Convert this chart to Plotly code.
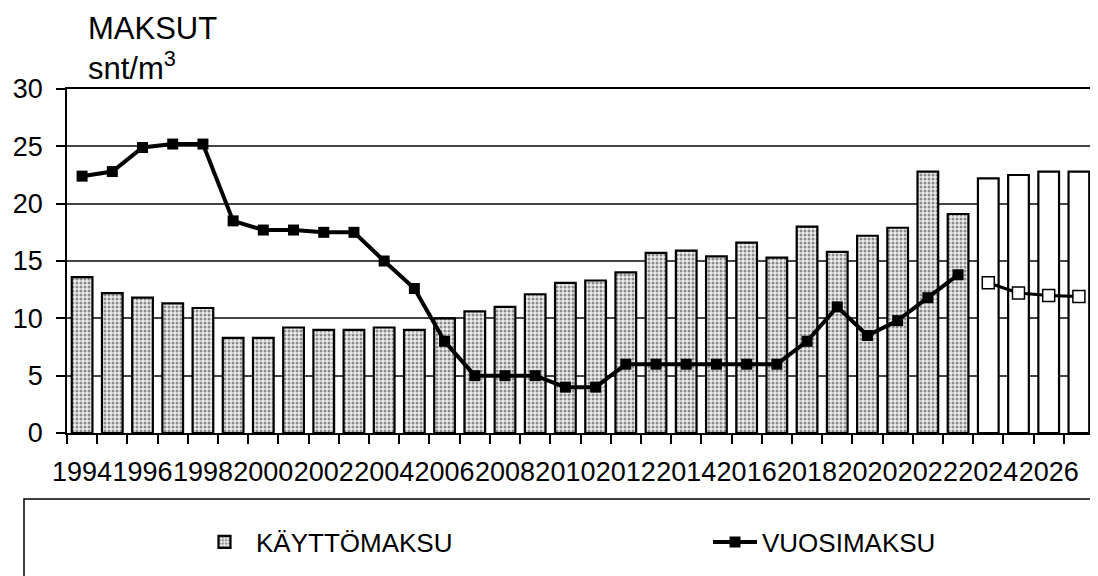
import plotly.graph_objects as go

years = list(range(1994, 2028))
kayttomaksu = [13.6, 12.2, 11.8, 11.3, 10.9, 8.3, 8.3, 9.2, 9.0, 9.0,
               9.2, 9.0, 10.0, 10.6, 11.0, 12.1, 13.1, 13.3, 14.0, 15.7,
               15.9, 15.4, 16.6, 15.3, 18.0, 15.8, 17.2, 17.9, 22.8, 19.1,
               22.2, 22.5, 22.8, 22.8]
vuosimaksu = [22.4, 22.8, 24.9, 25.2, 25.2, 18.5, 17.7, 17.7, 17.5, 17.5,
              15.0, 12.6, 8.0, 5.0, 5.0, 5.0, 4.0, 4.0, 6.0, 6.0,
              6.0, 6.0, 6.0, 6.0, 8.0, 11.0, 8.5, 9.8, 11.8, 13.8,
              13.1, 12.2, 12.0, 11.9]
first_forecast_year = 2024
tick_label_years = list(range(1994, 2027, 2))
tick_labels = [str(y) for y in tick_label_years]
y_ticks = [0, 5, 10, 15, 20, 25, 30]

n_act = years.index(first_forecast_year)
FONT = "Liberation Sans, Arial, sans-serif"

fig = go.Figure()

fig.add_trace(go.Bar(
    x=years[:n_act], y=kayttomaksu[:n_act], name="KÄYTTÖMAKSU",
    marker=dict(color="#e6e6e6", line=dict(color="black", width=2.2),
                pattern=dict(shape=".", fgcolor="#8a8a8a", bgcolor="#eeeeee",
                             size=4, solidity=0.45, fillmode="replace")),
    showlegend=True, legend="legend",
))
fig.add_trace(go.Bar(
    x=years[n_act:], y=kayttomaksu[n_act:], name="KÄYTTÖMAKSU ennuste",
    marker=dict(color="white", line=dict(color="black", width=2.2)),
    showlegend=False,
))
fig.add_trace(go.Scatter(
    x=years[:n_act], y=vuosimaksu[:n_act], name="VUOSIMAKSU",
    mode="lines+markers",
    line=dict(color="black", width=4),
    marker=dict(symbol="square", size=11, color="black"),
    legend="legend2",
))
fig.add_trace(go.Scatter(
    x=years[n_act:], y=vuosimaksu[n_act:], name="VUOSIMAKSU ennuste",
    mode="lines+markers",
    line=dict(color="black", width=3),
    marker=dict(symbol="square", size=12, color="white",
                line=dict(color="black", width=1.5)),
    showlegend=False,
))

x0, x1 = years[0] - 0.5, years[-1] + 0.5
boundaries = [y - 0.5 for y in years] + [years[-1] + 0.5]

# invisible carrier trace so the label axis is drawn
fig.add_trace(go.Scatter(
    x=[x0, x1], y=[0, 0], xaxis="x2", yaxis="y", mode="lines",
    line=dict(color="rgba(0,0,0,0)", width=0), showlegend=False,
    hoverinfo="skip",
))

legend_common = dict(orientation="h", xanchor="left", yanchor="middle",
                     y=(433 - 542) / 344,
                     font=dict(family=FONT, size=26, color="black"),
                     bgcolor="rgba(0,0,0,0)", borderwidth=0)

fig.update_layout(
    width=1090, height=568,
    margin=dict(l=59, r=4, t=81, b=143, autoexpand=False),
    paper_bgcolor="white", plot_bgcolor="white",
    bargap=0.315, barmode="overlay",
    font=dict(family=FONT, size=26, color="black"),
    xaxis=dict(range=[x0, x1], tickmode="array", tickvals=boundaries,
               ticktext=[""] * len(boundaries), ticks="outside", ticklen=9,
               tickwidth=1.5, tickcolor="black", showgrid=False,
               showline=True, linecolor="black", linewidth=1.5, mirror=True,
               zeroline=False),
    xaxis2=dict(range=[x0, x1], overlaying="x", side="bottom", anchor="y",
                tickmode="array", tickvals=tick_label_years, ticktext=tick_labels,
                tickangle=0, ticks="", showgrid=False, showline=False,
                zeroline=False, ticklabelstandoff=20,
                tickfont=dict(family=FONT, size=27, color="black")),
    yaxis=dict(range=[0, 30], tickmode="array", tickvals=y_ticks,
               ticks="outside", ticklen=9, tickwidth=1.5, tickcolor="black",
               showgrid=True, gridcolor="#444444", gridwidth=1.5,
               showline=True, linecolor="black", linewidth=1.5, mirror=True,
               zeroline=False, ticklabelstandoff=8,
               tickfont=dict(family=FONT, size=27, color="black")),
    legend=dict(x=(193 - 67) / 1027, itemwidth=53, **legend_common),
    legend2=dict(x=(708 - 67) / 1027, itemwidth=44, **legend_common),
    annotations=[dict(text="MAKSUT<br>snt/m<sup>3</sup>", xref="paper", yref="paper",
                      x=(86 - 67) / 1027, y=(433 - 9) / 344,
                      xanchor="left", yanchor="top", align="left", showarrow=False,
                      font=dict(family=FONT, size=31, color="black"))],
    shapes=[dict(type="rect", xref="paper", yref="paper",
                 x0=(24 - 67) / 1027, x1=(1110 - 67) / 1027,
                 y0=(433 - 600) / 344, y1=(433 - 499) / 344,
                 line=dict(color="black", width=1.5), fillcolor="rgba(0,0,0,0)",
                 layer="below")],
)

fig.write_html("out.html")
